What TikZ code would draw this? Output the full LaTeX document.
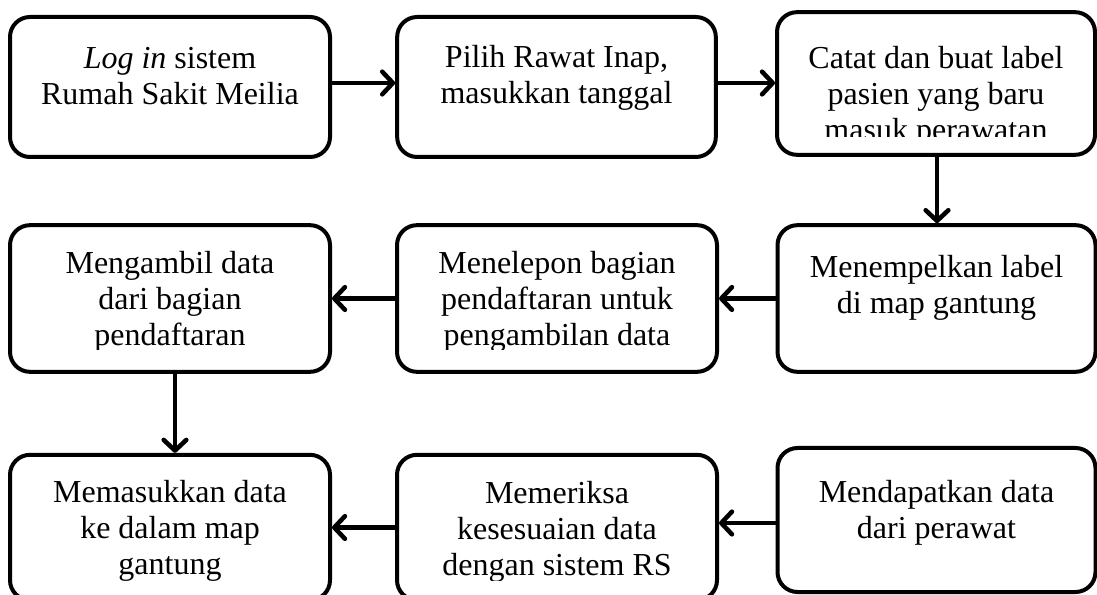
\documentclass[tikz,border=0pt]{standalone}
\usepackage{fontspec}
\setmainfont{Liberation Serif}
\usetikzlibrary{arrows.meta}
\tikzset{
  x=0.75pt, y=-0.75pt,
  box/.style={draw=black, line width=3pt, rounded corners=15pt, fill=white, inner sep=0pt},
  txt/.style={align=center, anchor=north, inner sep=0pt, font=\fontsize{24}{27}\selectfont},
  conn/.style={line width=3.6pt, -{Straight Barb[length=8pt,width=17pt,line width=3.4pt,round]}},
}
\begin{document}
\begin{tikzpicture}
\clip (0,0) rectangle (1097,595);
% row 1
\node[box, minimum width=240pt, minimum height=105pt] (b1) at (170,87) {};
\node[box, minimum width=239pt, minimum height=105pt] (b2) at (556.5,87) {};
\node[box, minimum width=238.5pt, minimum height=107pt] (b3) at (936,83.5) {};
% row 2
\node[box, minimum width=240pt, minimum height=110pt] (b6) at (170,298.5) {};
\node[box, minimum width=240pt, minimum height=110pt] (b5) at (557,298.5) {};
\node[box, minimum width=238.5pt, minimum height=110pt] (b4) at (936.5,298.5) {};
% row 3
\node[box, minimum width=240pt, minimum height=109pt] (b9) at (170,527.5) {};
\node[box, minimum width=240pt, minimum height=109pt] (b8) at (557,527.5) {};
\node[box, minimum width=238.5pt, minimum height=108pt] (b7) at (936.5,520) {};
% texts (first baseline = y - 25.2)
\node[txt] at (170,42.8) {\strut\textit{Log in} sistem\\Rumah Sakit Meilia};
\node[txt] at (556.5,41.8) {\strut Pilih Rawat Inap,\\masukkan tanggal};
\begin{scope}
\clip (780,15) rectangle (1092,137);
\node[txt] at (936,42.8) {\strut Catat dan buat label\\pasien yang baru\\masuk perawatan};
\end{scope}
\begin{scope}
\clip (13,228) rectangle (327,350);
\node[txt] at (170,247.8) {\strut Mengambil data\\dari bagian\\pendaftaran};
\end{scope}
\begin{scope}
\clip (400,228) rectangle (714,350);
\node[txt] at (557,247.8) {\strut Menelepon bagian\\pendaftaran untuk\\pengambilan data};
\end{scope}
\node[txt] at (936.5,251.8) {\strut Menempelkan label\\di map gantung};
\begin{scope}
\clip (13,458) rectangle (327,582);
\node[txt] at (170,476.8) {\strut Memasukkan data\\ke dalam map\\gantung};
\end{scope}
\begin{scope}
\clip (400,458) rectangle (714,580);
\node[txt] at (557,477.8) {\strut Memeriksa\\kesesuaian data\\dengan sistem RS};
\end{scope}
\node[txt] at (936.5,476.8) {\strut Mendapatkan data\\dari perawat};
% connectors
\draw[conn] ([yshift=3pt]b1.east) -- ([yshift=3pt]b2.west);
\draw[conn] ([yshift=3pt]b2.east) -- ([yshift=3pt]b2.east -| b3.west);
\draw[conn] ([xshift=0.75pt]b3.south) -- ([xshift=0.75pt]b3.south |- b4.north);
\draw[conn] (b4.west) -- (b5.east);
\draw[conn] (b5.west) -- (b6.east);
\draw[conn] ([xshift=3.75pt]b6.south) -- ([xshift=3.75pt]b9.north);
\draw[conn] ([yshift=-2.25pt]b7.west) -- ([yshift=-2.25pt]b7.west -| b8.east);
\draw[conn] (b8.west) -- (b9.east);
\end{tikzpicture}
\end{document}
